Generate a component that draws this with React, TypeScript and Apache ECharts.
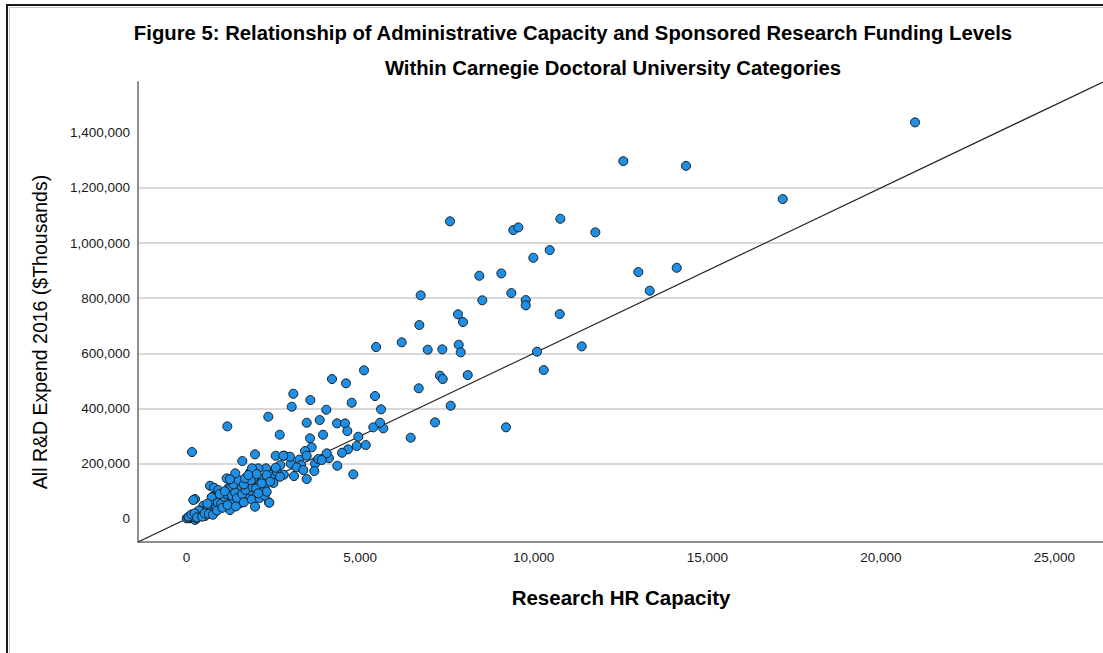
import React, { useEffect, useRef } from "react";
import * as echarts from "echarts";

const titleLine1 = "Figure 5: Relationship of Administrative Capacity and Sponsored Research Funding Levels";
const titleLine2 = "Within Carnegie Doctoral University Categories";
const xAxisTitle = "Research HR Capacity";
const yAxisTitle = "All R&D Expend 2016 ($Thousands)";

const xTicks = [0, 5000, 10000, 15000, 20000, 25000];
const yTicks = [0, 200000, 400000, 600000, 800000, 1000000, 1200000, 1400000];
const xRange = [-1400, 26400];
const yRange = [-84000, 1584000];

// reference line (y = 60x) across the plot
const refLine = [
  [-1400, -84000],
  [26400, 1584000],
];

// [Research HR Capacity, All R&D Expend 2016]
const largeInstitutions = [
  [20985, 1437600], [17174, 1159500], [12581, 1297000], [14388, 1280000],
  [7589, 1078700], [9413, 1047000], [9557, 1056800], [10767, 1088000],
  [11775, 1038800], [10461, 974600], [9989, 946700], [8433, 881400],
  [9067, 890000], [13014, 894900], [14120, 910400], [13342, 827100],
  [6744, 810300], [8519, 792300], [9355, 818700], [9770, 793300],
  [9770, 774000], [7819, 741500], [7963, 713600], [10749, 742600],
  [6705, 702700], [6197, 640000], [6946, 613300], [7367, 614500],
  [7839, 631300], [7897, 603700], [10095, 606000], [11383, 625400],
  [7300, 518900], [7378, 506900], [8099, 521400], [10288, 539500],
  [6687, 473200], [7609, 410100], [7157, 349900], [9202, 331800],
  [6456, 294100], [5460, 623000],
];

const midInstitutions = [
  [155, 242200], [1173, 335300], [2354, 370300], [3075, 453600],
  [3028, 406500], [3565, 430700], [4189, 506900], [4592, 491300],
  [5111, 538400], [4756, 421000], [5428, 445300], [5601, 397000],
  [4025, 395600], [3460, 348400], [3835, 358200], [4333, 346200],
  [4564, 346200], [4630, 318300], [3930, 305000], [2682, 305000],
  [3555, 291900], [3604, 259200], [3411, 245800], [3460, 228800],
  [4947, 297700], [5379, 331800], [5667, 328100], [5572, 348400],
  [5160, 267600], [4900, 264000], [4650, 252000], [4477, 239700],
  [4036, 237500], [3794, 216800], [3892, 213200], [4342, 192500],
  [4803, 161300], [2815, 228800], [2979, 225200], [2567, 228800],
  [2786, 229000], [1971, 233900], [1605, 209600], [3172, 186700],
  [3094, 155200], [3460, 144300], [3679, 173300], [3362, 176900],
  [2691, 152700], [2567, 185300], [2288, 183100], [2066, 183100],
  [1884, 183100], [2020, 162400], [2307, 158800], [2403, 134500],
  [2163, 128700], [2307, 98300], [2066, 92500], [1971, 43900],
  [2383, 58400], [1403, 165000], [1250, 143200], [1682, 146800],
  [1778, 158800],
];

const smallInstitutions = [
  [674, 120000], [789, 112800], [1213, 112800], [1587, 116400],
  [1798, 98300], [242, 71800], [752, 80100], [481, 47500],
  [962, 43900], [1250, 31900], [1538, 56200], [722, 25700],
  [386, 13800], [98, 1800], [2, 1800], [242, -4000],
  [1827, 168600], [2547, 179500], [2576, 152700], [2020, 152700],
  [1155, 146800], [913, 104400], [1250, 110600], [1827, 128700],
  [2115, 128700], [2163, 92500], [2374, 59800], [193, 68200],
  [722, 78000], [1731, 74300], [1345, 68200], [1057, 68200],
  [674, 31900], [193, 13800], [290, 1800], [530, 10100],
  [818, 25700], [50, 3000], [120, 6000], [180, 8000],
  [260, 12000], [320, 18000], [410, 22000], [470, 28000],
  [560, 30000], [620, 38000], [700, 45000], [780, 52000],
  [850, 40000], [900, 58000], [1000, 55000], [1080, 80000],
  [1150, 90000], [1300, 85000], [1400, 95000], [1450, 75000],
  [1600, 90000], [1700, 105000], [1900, 115000], [2000, 110000],
  [2200, 145000], [2450, 160000], [2600, 170000], [2700, 195000],
  [3000, 200000], [3250, 215000], [350, 30000], [600, 55000],
  [950, 90000], [1100, 100000], [1350, 125000], [1500, 140000],
  [1650, 125000], [1850, 140000], [2250, 110000], [2500, 130000],
  [2800, 160000], [3300, 195000], [3700, 200000], [4100, 220000],
  [60, 8000], [140, 16000], [230, 20000], [300, 5000],
  [450, 8000], [520, 20000], [640, 18000], [760, 15000],
  [880, 30000], [1030, 40000], [1180, 50000], [1420, 45000],
  [1650, 60000], [1880, 70000], [2100, 75000], [2250, 85000],
];

const FONT = "'Liberation Sans', Arial, Helvetica, sans-serif";

export default function App() {
  const ref = useRef<HTMLDivElement>(null);

  useEffect(() => {
    if (!ref.current) return;
    const chart = echarts.init(ref.current, null, { renderer: "svg" });
    const fmt = (v: number) => Math.round(v).toLocaleString("en-US");
    const pointStyle = {
      color: "#1e8fe6",
      borderColor: "#1b1b1b",
      borderWidth: 1,
      opacity: 1,
    };
    chart.setOption({
      animation: false,
      backgroundColor: "#ffffff",
      grid: { left: 138, right: 0, top: 82, bottom: 111, containLabel: false },
      xAxis: {
        type: "value",
        min: xRange[0],
        max: xRange[1],
        minInterval: 5000,
        maxInterval: 5000,
        axisLine: { show: true, onZero: false, lineStyle: { color: "#8e8e8e", width: 2 } },
        axisTick: { show: false, customValues: xTicks },
        axisLabel: {
          customValues: xTicks,
          formatter: fmt,
          color: "#1a1a1a",
          fontSize: 13.5,
          fontFamily: FONT,
          margin: 8,
        },
        splitLine: { show: false },
      },
      yAxis: {
        type: "value",
        min: yRange[0],
        max: yRange[1],
        minInterval: 200000,
        maxInterval: 200000,
        axisLine: { show: true, onZero: false, lineStyle: { color: "#8e8e8e", width: 2 } },
        axisTick: { show: false, customValues: yTicks },
        axisLabel: {
          customValues: yTicks,
          formatter: fmt,
          color: "#1a1a1a",
          fontSize: 13.5,
          fontFamily: FONT,
          margin: 8,
        },
        splitLine: {
          show: true,
          showMinLine: false,
          showMaxLine: false,
          lineStyle: { color: "#cbcbcb", width: 1.5 },
        },
      },
      graphic: [
        { type: "line", shape: { x1: 7, y1: 4, x2: 7, y2: 660 }, style: { stroke: "#1a1a1a", lineWidth: 2 } },
        { type: "line", shape: { x1: 6, y1: 5, x2: 1110, y2: 5 }, style: { stroke: "#1a1a1a", lineWidth: 2 } },
        { type: "line", shape: { x1: 9.5, y1: 7, x2: 9.5, y2: 660 }, style: { stroke: "#c8c8c8", lineWidth: 1 } },
        { type: "line", shape: { x1: 9, y1: 7.5, x2: 1110, y2: 7.5 }, style: { stroke: "#c8c8c8", lineWidth: 1 } },
        {
          type: "text",
          x: 573,
          y: 33,
          style: { text: titleLine1, fontSize: 20.3, fontWeight: "bold", fontFamily: FONT, fill: "#000", align: "center", verticalAlign: "middle" },
        },
        {
          type: "text",
          x: 613,
          y: 68,
          style: { text: titleLine2, fontSize: 20.3, fontWeight: "bold", fontFamily: FONT, fill: "#000", align: "center", verticalAlign: "middle" },
        },
        {
          type: "text",
          x: 621,
          y: 597,
          style: { text: xAxisTitle, fontSize: 20.5, fontWeight: "bold", fontFamily: FONT, fill: "#000", align: "center", verticalAlign: "middle" },
        },
        {
          type: "text",
          x: 40,
          y: 332,
          rotation: Math.PI / 2,
          style: { text: yAxisTitle, fontSize: 19.5, fontFamily: FONT, fill: "#000", align: "center", verticalAlign: "middle" },
        },
      ],
      series: [
        {
          type: "line",
          data: refLine,
          showSymbol: false,
          symbol: "none",
          lineStyle: { color: "#222222", width: 1.2 },
          z: 1,
          silent: true,
        },
        { type: "scatter", data: smallInstitutions, symbolSize: 9, itemStyle: pointStyle, z: 2 },
        { type: "scatter", data: midInstitutions, symbolSize: 9, itemStyle: pointStyle, z: 2 },
        { type: "scatter", data: largeInstitutions, symbolSize: 9, itemStyle: pointStyle, z: 2 },
      ],
    });
    return () => chart.dispose();
  }, []);

  return (
    <div
      ref={ref}
      style={{ position: "absolute", left: 0, top: 0, width: 1103, height: 653 }}
    />
  );
}
